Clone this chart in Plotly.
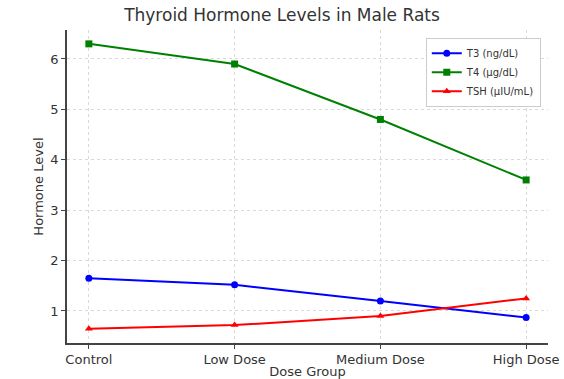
import plotly.graph_objects as go

groups = ["Control", "Low Dose", "Medium Dose", "High Dose"]
t3 = [1.65, 1.52, 1.2, 0.87]
t4 = [6.3, 5.9, 4.8, 3.6]
tsh = [0.65, 0.72, 0.9, 1.25]

xs = list(range(len(groups)))
fig = go.Figure()
fig.add_trace(go.Scatter(x=xs, y=t3, mode="lines+markers", name="T3 (ng/dL)",
                         line=dict(color="#0000ff", width=2), marker=dict(symbol="circle", size=7)))
fig.add_trace(go.Scatter(x=xs, y=t4, mode="lines+markers", name="T4 (µg/dL)",
                         line=dict(color="#008000", width=2), marker=dict(symbol="square", size=7)))
fig.add_trace(go.Scatter(x=xs, y=tsh, mode="lines+markers", name="TSH (µIU/mL)",
                         line=dict(color="#ff0000", width=2), marker=dict(symbol="triangle-up", size=7)))

fig.update_layout(
    width=564, height=379,
    margin=dict(l=67, r=16, t=30, b=36, autoexpand=False),
    paper_bgcolor="white", plot_bgcolor="white",
    font=dict(family="DejaVu Sans", size=13, color="#333333"),
    title=dict(text="Thyroid Hormone Levels in Male Rats", x=0.5, xanchor="center", y=0.975, yanchor="top",
               font=dict(size=17, color="#333333")),
    legend=dict(x=0.985, y=0.975, xanchor="right", yanchor="top", bgcolor="white",
                bordercolor="#cccccc", borderwidth=1, font=dict(size=10), itemwidth=30,
                tracegroupgap=0),
    showlegend=True,
    annotations=[dict(text="Hormone Level", xref="paper", yref="paper", x=-0.06, y=0.5,
                      xanchor="center", yanchor="middle", textangle=-90, showarrow=False,
                      font=dict(size=13, color="#333333"))],
)
fig.update_xaxes(
    tickmode="array", tickvals=xs, ticktext=groups, range=[-0.15, 3.15], automargin=False,
    showgrid=True, gridcolor="#d9d9d9", griddash="dot", gridwidth=1,
    showline=True, linecolor="#444444", linewidth=1.5, ticks="outside", ticklen=4, tickcolor="#444444",
    title=dict(text="Dose Group", standoff=2, font=dict(size=13)), zeroline=False,
)
fig.update_yaxes(
    range=[0.365, 6.575], tickvals=[1, 2, 3, 4, 5, 6], automargin=False,
    showgrid=True, gridcolor="#d9d9d9", griddash="dot", gridwidth=1,
    showline=True, linecolor="#444444", linewidth=1.5, ticks="outside", ticklen=4, tickcolor="#444444",
    zeroline=False,
)
fig.write_html("out.html", config={"displayModeBar": False},
               post_script="document.body.style.margin='0';document.body.style.overflow='hidden';")
